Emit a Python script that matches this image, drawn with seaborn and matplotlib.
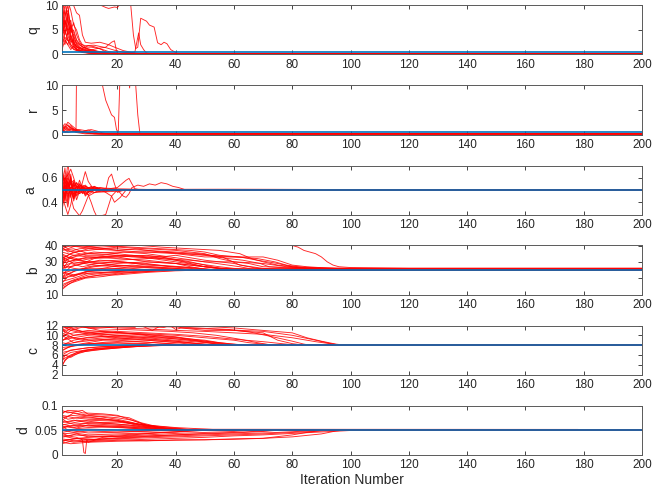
import numpy as np
import pandas as pd
import matplotlib
matplotlib.use("Agg")
import matplotlib.pyplot as plt
import seaborn as sns

# Estimated parameter trajectories for each run, written as "iteration:value" pairs.
q_traces = [
    "1:10 2:12 3:6 4:3 5:1.5 7:0.8 10:0.4 15:0.15 200:0.12",
    "1:6 2:9 3:4 4:2 6:1 9:0.5 14:0.2 200:0.12",
    "1:3 2:7 3:5 4:2.5 5:3 6:1.2 8:0.6 12:0.3 16:0.12 200:0.12",
    "1:12 2:8 3:10 4:5 5:4 6:2 8:1 12:0.4 16:0.12 200:0.12",
    "1:5 2:4 3:6 4:7 5:3 7:1.5 9:1 12:0.5 16:0.3 20:0.12 200:0.12",
    "1:8 2:3 3:2 4:4 5:2 6:1 8:0.5 12:0.12 200:0.12",
    "1:2 2:5 3:3 4:1.5 6:0.8 10:0.3 14:0.12 200:0.12",
    "1:7 2:10 3:11 4:9 5:6 6:5 7:3 8:2 9:1.5 11:1.5 13:1.3 15:1 17:0.6 20:0.3 23:0.12 200:0.12",
    "1:4 2:6 3:8 4:12 5:10 6:8.5 7:8 8:4 9:2.5 11:2.3 14:2.5 17:2 19:1.5 22:0.8 26:0.3 29:0.12 200:0.12",
    "1:9 2:5 3:3 4:2 5:1 7:0.7 10:0.8 13:1.2 16:1.5 18:2.5 19:2.8 19.6:1 20:0.1 200:0.12",
    "1:12 3:15 14:12 14.5:10 16:9.6 17:9.4 19:9.7 20:9.6 21:10.3 24:11 24.6:10 25.5:4 26.3:1.2 27:1.5 28:7.4 30:6.8 31:6 32.6:5.6 33.8:2.4 35:2 36:2.5 37:2.2 38.3:1 40.6:0.2 42:0.12 200:0.12",
    "1:3.5 2:2 3:4.5 4:6 5:2.5 6:1.5 8:1 10:0.9 12:0.6 15:0.4 20:0.2 26:0.5 27.3:4.4 28:2 29:1 30:0.3 32:0.12 200:0.12",
    "1:1 2:3 3:2 4:1 5:1.8 6:0.9 8:0.4 11:0.2 13:0.12 200:0.12",
    "1:6.5 2:4.5 3:7.5 4:3.5 5:2.2 6:1.6 8:1.2 10:1.8 12:1.6 14:1.2 16:0.5 18:0.2 20:0.12 200:0.12",
    "1:9 2:11 3:7 4:4 5:2.5 6:1.8 7:1 9:0.6 13:0.2 15:0.12 200:0.12",
    "1:4.5 2:8 3:9 4:6 5:4.5 6:2.8 7:2 9:1.2 12:0.7 16:0.3 19:0.12 200:0.12",
    "1:11 2:6 3:5 4:5.5 5:3.5 6:2.4 8:1.5 11:1 14:0.5 18:0.2 20:0.12 200:0.12",
    "1:2.5 2:3.5 3:2.8 4:3.2 5:2 7:1.2 10:0.6 15:0.25 18:0.12 200:0.12",
    "1:7.5 2:6 3:8.5 4:4.5 5:5 6:3 7:2.2 9:1.8 12:1.9 16:1.4 20:0.7 24:0.3 27:0.12 200:0.12",
    "1:5.5 2:7 3:4 4:5 5:6.5 6:4 7:2.6 8:1.6 10:1.1 13:0.7 17:0.3 21:0.12 200:0.12",
]

r_traces = [
    "1:1.5 2:2.2 3:1.8 4:1.2 6:0.8 9:0.4 12:0.15 200:0.12",
    "1:0.8 2:1.5 3:2.5 4:2 5:1.5 6:1 8:0.6 11:0.3 14:0.12 200:0.12",
    "1:2 2:1 3:1.5 4:1.8 5:1.1 7:1 9:0.8 11:1 13:0.7 15:0.3 17:0.12 200:0.12",
    "1:0.5 2:0.9 3:1.2 4:0.7 6:0.5 10:0.2 12:0.12 200:0.12",
    "1:1 2:0.6 3:0.9 5:1.2 5.8:0.6 6:14 14:12 14.9:10 16:7 17:5.5 18:4 19:3.5 19.7:1 20.3:0.4 20.9:12 24:11 24.2:9.5 24.4:11 26.3:10 27:4 27.7:0.3 28:0.12 200:0.12",
    "1:0.3 2:1.8 3:1 4:1.5 5:0.8 7:0.5 10:0.3 13:0.12 200:0.12",
    "1:1.2 2:0.4 3:0.7 4:1 6:0.4 9:0.12 200:0.12",
    "1:0.6 3:0.4 5:0.7 8:0.6 10:0.9 12:0.5 14:0.2 16:0.12 200:0.12",
    "1:1.8 2:1.2 3:2 4:1.4 5:1 7:0.7 9:0.5 12:0.25 15:0.12 200:0.12",
]

a_traces = [
    "1:0.6 2:0.4 3:0.65 4:0.45 5:0.55 6:0.48 8:0.52 10:0.5 15:0.51 18:0.5 200:0.5",
    "1:0.35 2:0.62 3:0.42 4:0.58 5:0.46 7:0.53 10:0.49 14:0.505 17:0.5 200:0.5",
    "1:0.7 2:0.5 3:0.72 4:0.55 6:0.45 8:0.52 12:0.5 200:0.5",
    "1:0.45 3:0.3 4:0.38 5:0.5 7:0.47 10:0.52 15:0.5 200:0.5",
    "1:0.55 2:0.45 4:0.6 6:0.42 8:0.56 9:0.65 10:0.57 12:0.5 15:0.49 18:0.5 200:0.5",
    "1:0.4 3:0.55 5:0.35 7:0.29 8:0.33 10:0.45 13:0.49 16:0.5 200:0.5",
    "1:0.62 3:0.52 5:0.58 7:0.47 9:0.53 12:0.48 16:0.5 17:0.6 18:0.63 19:0.55 20:0.48 22:0.5 200:0.5",
    "1:0.48 3:0.57 5:0.44 7:0.55 10:0.46 13:0.52 16:0.48 18:0.45 19:0.4 21:0.44 23:0.5 200:0.5",
    "1:0.52 3:0.47 6:0.53 9:0.48 10:0.46 11:0.4 12:0.33 13:0.28 16:0.3 18:0.45 20:0.5 200:0.5",
    "1:0.38 2:0.6 4:0.5 6:0.56 8:0.48 11:0.53 14:0.5 20:0.52 23:0.58 24:0.595 25:0.55 26:0.51 28:0.5 200:0.5",
    "1:0.5 4:0.52 8:0.5 14:0.5 20:0.5 22:0.45 23:0.44 24:0.47 25:0.52 27:0.54 29:0.53 31:0.55 33:0.54 35:0.56 37:0.55 39:0.53 41:0.52 43:0.505 50:0.505 200:0.503",
    "1:0.58 3:0.49 5:0.54 8:0.51 12:0.52 20:0.51 30:0.505 60:0.506 100:0.504 200:0.503",
    "1:0.42 3:0.51 5:0.47 8:0.5 12:0.48 20:0.49 24:0.5 200:0.5",
    "1:0.66 2:0.55 3:0.6 5:0.5 7:0.54 10:0.51 13:0.5 200:0.5",
    "1:0.33 2:0.48 3:0.36 4:0.52 6:0.5 9:0.47 12:0.51 15:0.5 200:0.5",
    "1:0.57 3:0.62 4:0.67 5:0.6 6:0.52 8:0.54 12:0.5 200:0.5",
    "1:0.47 2:0.53 3:0.45 5:0.56 7:0.5 9:0.54 11:0.49 14:0.52 18:0.5 200:0.5",
    "1:0.53 2:0.44 3:0.56 5:0.43 7:0.55 9:0.46 12:0.53 16:0.49 19:0.5 200:0.5",
    "1:0.64 2:0.41 3:0.59 4:0.44 5:0.57 6:0.46 8:0.53 10:0.48 13:0.51 16:0.5 200:0.5",
    "1:0.36 2:0.54 3:0.39 4:0.61 5:0.43 6:0.56 8:0.47 11:0.52 14:0.49 17:0.5 200:0.5",
    "1:0.5 2:0.68 3:0.47 4:0.63 5:0.41 7:0.58 9:0.45 12:0.53 15:0.49 20:0.5 200:0.5",
]

b_traces = [
    "1:38 5:36 10:37 20:39 30:38 40:37 50:35 55:32 60:30 65:29 70:27 80:26.5 100:26 200:26",
    "1:40 8:39 15:40 25:39 35:38 45:37 50:36 55:34 62:33 68:31 75:29 80:27 90:26.3 95:26 200:26",
    "1:30 5:33 10:35 20:36 30:36 40:35 50:33 60:33 70:33 75:31 80:28 85:27 92:26.2 96:25.9 200:25.9",
    "1:25 3:30 8:32 15:33 25:34 35:33 45:30 50:28 55:26 60:25.3 200:25.3",
    "1:35 4:32 10:30 20:31 30:32 40:34 50:31 60:29 65:27 70:25.5 74:25.2 200:25.2",
    "1:20 5:24 10:27 20:29 30:30 40:29 45:27 50:25.5 54:25 200:25",
    "1:13 3:16 6:19 10:21 15:22 20:23 30:24 40:24.7 44:25 200:25",
    "1:15 4:18 8:20 14:22 20:22 30:23.5 40:24.5 50:25 200:25",
    "1:18 5:20 10:23 20:24 30:25 200:25",
    "1:28 5:26 10:25 20:24.5 26:25 200:25",
    "1:33 5:29 10:30 20:28 30:27 40:26 46:25.5 200:25.5",
    "1:22 4:27 8:29 12:32 20:33 30:30 40:29 50:27 55:26 60:25.5 200:25.5",
    "1:37 5:38 10:35 20:34 25:33 35:32 45:31 50:30 60:30 70:29 78:27 85:26 90:25.7 200:25.7",
    "1:26 6:28 14:31 22:30 30:28 40:27 48:26 53:25.2 200:25.2",
    "1:31 5:34 12:36 20:35 30:33 40:31 45:29 50:27 57:26 62:25.4 200:25.4",
    "1:39 3:36 7:38 14:39 24:40 28:40 35:39 45:38 55:37 62:35 66:32 70:30 75:28 85:26 200:26",
    "1:24 5:22 10:23 20:24 26:25 200:25",
    "1:20 4:21 10:24 20:25 200:25",
    "1:34 6:31 12:29 20:30 30:29 38:27 45:26 50:25 200:25",
    "1:42 78:41 80:40 82:39 84:37 86:36 88:35 90:33 92:30 94:28 96:27 100:26.5 120:26 200:26",
    "1:16 5:19 10:22 15:23 25:24 35:24.8 40:25 200:25",
    "1:29 5:31 10:33 20:32 30:31 40:29 50:27 55:26 60:25.5 200:25.5",
    "1:36 5:34 10:33 20:33 30:34 35:33 40:31 47:29 55:27 60:26 65:25.6 200:25.6",
    "1:27 5:30 12:28 20:27 25:26 30:25.2 200:25.2",
    "1:21 6:25 12:27 18:28 26:27 35:26 40:25 200:25",
    "1:32 4:35 10:38 20:37 26:38 35:36 42:35 50:34 58:32 63:31 69:29 72:27 80:26 85:25.8 200:25.8",
    "1:23 5:25 10:26 20:26 26:25 200:25",
    "1:38 4:40 12:38 20:38 30:37 40:36 48:35 56:33 62:28 70:26 75:25.5 200:25.5",
    "1:17 3:21 7:23 12:25 18:27 25:28 32:27 40:26 45:25 200:25",
    "1:14 4:17 9:20 15:21 22:23 30:24 36:25 200:25",
    "1:35 2:30 4:33 8:31 14:33 20:34 28:33 36:31 44:29 50:27 56:25.5 60:25 200:25",
    "1:19 2:23 5:21 9:24 14:25 20:26 28:26.5 36:26 44:25.3 200:25.3",
    "1:40 3:38 6:40 12:39 20:37 28:36 36:36 44:35 52:34 60:33 68:32 74:30 78:28 84:26.5 88:26 200:26",
    "1:27 2:33 5:36 9:34 15:34 22:36 30:35 38:33 46:31 54:29 62:27 66:25.6 200:25.6",
    "1:31 2:26 4:29 8:27 13:29 19:30 26:29 34:28 42:27 48:26 52:25.2 200:25.2",
]

c_traces = [
    "1:12 5:11.5 10:12 20:12 30:11.8 40:12 50:11.8 60:11.5 70:11 80:10.5 85:9.5 90:8.8 95:8.2 98:8 200:8",
    "1:11 5:12 10:11.5 20:12 28:12 32:11 35:12 40:12 42:11.5 50:11 60:11 70:10.5 75:9 80:8.3 84:8 200:8",
    "1:10 5:10.5 10:11 20:10.5 30:10.3 40:10 50:9.5 60:9 65:8.5 70:8.2 74:8 200:8",
    "1:9 5:10 10:10.5 20:10 30:9.8 40:9.5 50:9 55:8.5 60:8.2 64:8 200:8",
    "1:8 5:9 10:9.5 20:10 30:9.5 40:9 50:8.5 56:8.1 60:8 200:8",
    "1:4 3:5.5 6:6.5 10:7 15:7.3 20:7.5 30:7.8 40:8 200:8",
    "1:5 4:6 8:6.8 12:7.2 20:7.6 28:7.9 33:8 200:8",
    "1:6.5 5:7 10:7.5 20:7.8 26:8 200:8",
    "1:7 5:8 10:8.5 15:9 20:9 30:8.6 40:8.2 45:8 200:8",
    "1:12 4:11 8:10.5 14:10 20:9.5 30:9 40:8.6 50:8.2 55:8 200:8",
    "1:11.5 6:12 14:11 22:11.2 30:11 38:10.8 46:10.5 54:10 62:9.2 68:8.5 72:8.1 75:8 200:8",
    "1:10.5 5:9.5 10:9 20:9.2 30:9 40:8.5 45:8.2 50:8 200:8",
    "1:8.5 5:8 10:8.3 20:8.5 30:8.3 35:8 200:8",
    "1:9.5 4:11 10:12 18:12.1 26:11.8 36:11.6 38:12 40:11.2 42:11.5 55:11.2 70:10.8 80:10 88:9 94:8.2 97:8 200:8",
    "1:7.5 5:7.8 10:8.2 20:8.4 30:8.2 35:8 200:8",
    "1:6 4:7 8:7.3 15:7.7 25:7.9 30:8 200:8",
    "1:11 5:10 10:10.2 20:10.8 30:10.5 40:10.2 50:9.8 60:9.2 70:8.7 78:8.2 82:8 200:8",
    "1:9 5:9.5 10:10 20:10.3 30:10.2 40:9.7 48:9 55:8.4 60:8 200:8",
    "1:12 4:12 10:11.8 20:11.5 30:11.3 40:11 50:10.8 60:10.5 70:10.2 80:9.5 88:8.7 94:8.2 97:8 200:8",
    "1:8 6:8.6 12:9 20:9.4 30:9.2 40:8.8 48:8.3 53:8 200:8",
    "1:10 5:8.5 10:9.2 20:9.7 30:9.6 40:9.3 50:8.8 58:8.3 63:8 200:8",
    "1:5.5 4:6.5 9:7 14:7.4 22:7.7 30:7.9 35:8 200:8",
    "1:3.5 2:5 5:6 9:6.7 16:7.2 24:7.6 32:7.9 36:8 200:8",
    "1:10.8 4:11.3 9:10.6 16:10.8 24:10.4 32:10 40:9.6 46:9 52:8.4 57:8 200:8",
    "1:4.5 2:6 4:5.5 7:6.5 12:7 18:7.3 26:7.7 34:7.9 40:8 200:8",
    "1:11.8 2:10.5 4:11.5 8:10.8 14:10.4 20:10.6 28:10.1 36:9.5 44:9 52:8.5 58:8.1 62:8 200:8",
    "1:8.8 3:9.8 6:9.2 10:9.6 16:9.8 24:9.6 32:9.2 40:8.8 46:8.4 52:8 200:8",
    "1:6.8 3:7.5 6:8 10:8.2 16:8.6 22:8.8 30:8.6 38:8.3 44:8 200:8",
    "1:12 3:11.6 6:11.9 12:11.4 20:11.7 26:11.6 27:12 33:11.8 44:11.6 58:11.2 66:10.6 74:9.6 80:8.8 84:8.2 86:8 200:8",
]

d_traces = [
    "1:0.07 5:0.085 10:0.08 20:0.075 25:0.07 30:0.06 35:0.055 40:0.052 46:0.05 200:0.05",
    "1:0.09 3:0.085 8:0.09 10:0.082 18:0.08 24:0.075 28:0.065 35:0.055 42:0.051 200:0.05",
    "1:0.03 5:0.025 10:0.028 20:0.03 30:0.028 40:0.03 50:0.03 60:0.032 70:0.033 80:0.036 90:0.042 95:0.048 98:0.05 200:0.05",
    "1:0.025 4:0.022 10:0.025 20:0.027 30:0.028 40:0.029 50:0.03 60:0.031 70:0.033 80:0.04 85:0.045 90:0.049 93:0.05 200:0.05",
    "1:0.04 6:0.035 8:0.03 8.5:0.004 9:0.002 9.5:0.03 10:0.025 15:0.035 25:0.04 35:0.045 45:0.048 52:0.05 200:0.05",
    "1:0.06 5:0.065 10:0.07 20:0.068 30:0.06 40:0.055 50:0.052 56:0.05 200:0.05",
    "1:0.05 5:0.045 10:0.048 20:0.046 30:0.048 35:0.05 200:0.05",
    "1:0.035 5:0.04 10:0.038 20:0.036 30:0.038 40:0.04 50:0.042 60:0.044 70:0.047 76:0.05 200:0.05",
    "1:0.055 5:0.06 10:0.058 20:0.055 30:0.052 35:0.05 200:0.05",
    "1:0.08 5:0.075 10:0.072 20:0.07 25:0.062 30:0.056 36:0.051 200:0.05",
    "1:0.045 5:0.05 10:0.052 20:0.05 200:0.05",
    "1:0.028 5:0.032 10:0.035 20:0.037 30:0.04 40:0.043 50:0.045 60:0.047 66:0.05 200:0.05",
    "1:0.065 5:0.07 10:0.065 20:0.062 30:0.057 40:0.053 46:0.05 200:0.05",
    "1:0.038 5:0.033 10:0.03 20:0.032 30:0.034 40:0.036 50:0.038 60:0.04 70:0.042 80:0.045 90:0.048 94:0.05 200:0.05",
    "1:0.075 4:0.08 8:0.078 15:0.073 22:0.066 28:0.06 34:0.054 40:0.0515 178:0.0512 180:0.05 200:0.05",
    "1:0.042 5:0.044 10:0.04 20:0.042 30:0.044 40:0.046 47:0.05 200:0.05",
    "1:0.058 4:0.055 10:0.06 20:0.058 30:0.053 36:0.051 200:0.051",
    "1:0.032 5:0.028 10:0.026 20:0.029 30:0.031 40:0.033 50:0.035 60:0.038 70:0.04 80:0.043 90:0.046 100:0.049 103:0.05 200:0.05",
    "1:0.085 3:0.09 6:0.089 8:0.085 15:0.083 20:0.08 25:0.07 30:0.06 36:0.053 42:0.05 200:0.05",
    "1:0.048 5:0.052 10:0.055 20:0.057 30:0.054 36:0.05 200:0.05",
    "1:0.022 4:0.027 10:0.03 20:0.034 30:0.037 40:0.04 50:0.043 60:0.045 70:0.048 75:0.05 200:0.05",
    "1:0.068 5:0.062 10:0.064 20:0.066 30:0.06 40:0.054 46:0.05 200:0.05",
    "1:0.078 3:0.072 7:0.076 12:0.074 18:0.071 24:0.066 30:0.058 36:0.052 42:0.05 200:0.05",
    "1:0.062 4:0.058 9:0.063 16:0.061 24:0.058 32:0.054 38:0.05 200:0.05",
    "1:0.052 3:0.058 6:0.054 10:0.06 15:0.057 22:0.055 28:0.052 32:0.05 200:0.05",
    "1:0.072 3:0.066 6:0.07 10:0.068 16:0.064 24:0.06 30:0.055 36:0.051 200:0.05",
    "1:0.044 3:0.038 6:0.042 10:0.036 16:0.038 24:0.041 34:0.044 44:0.047 52:0.05 200:0.05",
    "1:0.082 2:0.088 4:0.086 8:0.08 14:0.077 20:0.072 26:0.064 32:0.057 38:0.052 44:0.05 200:0.05",
    "1:0.026 3:0.03 7:0.033 12:0.031 20:0.033 30:0.036 45:0.039 60:0.042 75:0.045 85:0.048 90:0.05 200:0.05",
    "1:0.058 3:0.05 6:0.047 10:0.044 18:0.045 28:0.047 38:0.049 44:0.05 200:0.05",
]

param_names = ["q", "r", "a", "b", "c", "d"]
true_values = [0.45, 0.45, 0.5, 25, 8, 0.05]
all_traces = [q_traces, r_traces, a_traces, b_traces, c_traces, d_traces]
y_limits = [(0, 10), (0, 10), (0.3, 0.7), (10, 40), (2, 12), (0, 0.1)]
y_ticks = [[0, 5, 10], [0, 5, 10], [0.4, 0.6], [10, 20, 30, 40],
           [2, 4, 6, 8, 10, 12], [0, 0.05, 0.1]]
y_ticklabels = [["0", "5", "10"], ["0", "5", "10"], ["0.4", "0.6"],
                ["10", "20", "30", "40"], ["2", "4", "6", "8", "10", "12"],
                ["0", "0.05", "0.1"]]
x_ticks = [20, 40, 60, 80, 100, 120, 140, 160, 180, 200]


def traces_to_frame(traces):
    rows = []
    for run, spec in enumerate(traces):
        for pair in spec.split():
            it, val = pair.split(":")
            rows.append((run, float(it), float(val)))
    return pd.DataFrame(rows, columns=["run", "iteration", "value"])


sns.set_theme(style="white")
plt.rcParams["font.family"] = ["Liberation Sans", "DejaVu Sans"]

fig = plt.figure(figsize=(6.67, 4.98), dpi=100)
W, H = 667.0, 498.0
left_px, right_px = 62.0, 642.0
panel_h = 49.0

for k, name in enumerate(param_names):
    top_px = 5.5 + 80.0 * k
    ax = fig.add_axes([left_px / W, 1 - (top_px + panel_h) / H,
                       (right_px - left_px) / W, panel_h / H])
    df = traces_to_frame(all_traces[k])
    sns.lineplot(data=df, x="iteration", y="value", units="run",
                 estimator=None, color="#ff0000", linewidth=0.65, alpha=0.85,
                 sort=False, legend=False, ax=ax)
    ax.axhline(true_values[k], color="#0072BD", linewidth=1.4, alpha=0.85,
               zorder=5)
    ax.set_xlim(1, 200)
    ax.set_ylim(*y_limits[k])
    ax.set_xticks(x_ticks)
    ax.set_xticklabels([str(t) for t in x_ticks])
    ax.set_yticks(y_ticks[k])
    ax.set_yticklabels(y_ticklabels[k])
    ax.tick_params(axis="both", direction="in", length=3, width=0.6,
                   colors="#262626", labelsize=8.5, pad=3,
                   top=True, right=True, bottom=True, left=True)
    for sp in ax.spines.values():
        sp.set_visible(True)
        sp.set_color("#5a5a5a")
        sp.set_linewidth(0.7)
    ax.set_ylabel(name, fontsize=10, color="#262626", labelpad=3)
    if k == len(param_names) - 1:
        ax.set_xlabel("Iteration Number", fontsize=10, color="#262626",
                      labelpad=2)
    else:
        ax.set_xlabel("")

fig.savefig("out.png", dpi=100)
